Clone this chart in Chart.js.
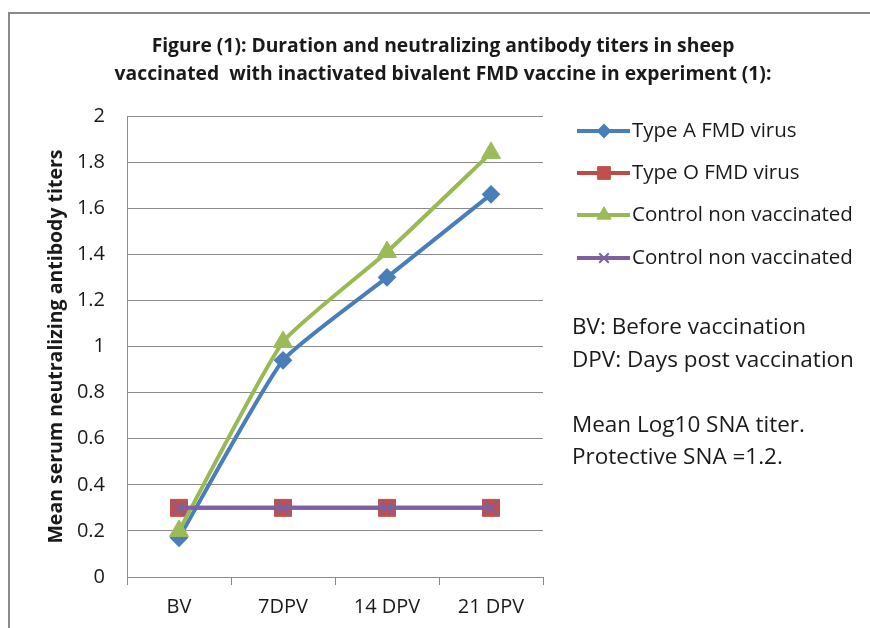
<!DOCTYPE html>
<html>
<head>
<meta charset="utf-8">
<script src="https://cdn.jsdelivr.net/npm/chart.js@4.4.1/dist/chart.umd.min.js"></script>
<style>
  html, body { margin: 0; padding: 0; background: #fff; overflow: hidden; }
  #wrap { position: relative; width: 870px; height: 628px; }
</style>
</head>
<body>
<div id="wrap"><canvas id="titersChart" width="870" height="628"></canvas></div>
<script>
// --- data ---
const categories = ['BV', '7DPV', '14 DPV', '21 DPV'];
const typeA = [0.17, 0.94, 1.3, 1.66];
const typeO = [0.3, 0.3, 0.3, 0.3];
const controlGreen = [0.2, 1.02, 1.41, 1.84];
const controlPurple = [0.3, 0.3, 0.3, 0.3];
const seriesNames = ['Type A FMD virus', 'Type O FMD virus', 'Control non vaccinated', 'Control non vaccinated'];
const yTicks = [0, 0.2, 0.4, 0.6, 0.8, 1, 1.2, 1.4, 1.6, 1.8, 2];
const titleLines = [
  'Figure (1): Duration and neutralizing antibody titers in sheep',
  'vaccinated  with inactivated bivalent FMD vaccine in experiment (1):'
];
const yTitle = 'Mean serum neutralizing antibody titers';
const notes = ['BV: Before vaccination', 'DPV: Days post vaccination', '', 'Mean Log10 SNA titer.', 'Protective SNA =1.2.'];

const FONT = '"Open Sans", Lato, sans-serif';
const TEXT = '#1a1a1a';
const GRID = '#8c8c8c';

// title, legend, side notes and outer frame drawn on the canvas
const sidePanel = {
  id: 'sidePanel',
  beforeDraw(chart) {
    const ctx = chart.ctx;
    ctx.save();
    ctx.strokeStyle = '#8a8a8a';
    ctx.lineWidth = 2;
    ctx.strokeRect(9, 13, 900, 700);
    ctx.restore();
  },
  afterDraw(chart) {
    const ctx = chart.ctx;
    ctx.save();
    ctx.fillStyle = TEXT;
    ctx.textBaseline = 'middle';
    ctx.textAlign = 'center';
    ctx.font = 'bold 19.3px ' + FONT;
    titleLines.forEach((line, i) => ctx.fillText(line, 443, 47 + i * 28));

    const rows = [131, 173, 215, 258];
    chart.data.datasets.forEach((ds, i) => {
      const y = rows[i];
      ctx.strokeStyle = ds.borderColor;
      ctx.lineWidth = 4;
      ctx.beginPath();
      ctx.moveTo(577, y);
      ctx.lineTo(630, y);
      ctx.stroke();
      ctx.fillStyle = ds.pointBackgroundColor;
      ctx.strokeStyle = ds.pointBorderColor;
      ctx.lineWidth = ds.pointBorderWidth;
      Chart.helpers.drawPoint(ctx, { pointStyle: ds.pointStyle, radius: ds.pointRadius * 0.75, rotation: 0, borderWidth: ds.pointBorderWidth }, 604, y);
      ctx.fillStyle = TEXT;
      ctx.font = '20.5px ' + FONT;
      ctx.textAlign = 'left';
      ctx.fillText(seriesNames[i], 632, y);
    });
    ctx.font = '22.5px ' + FONT;
    notes.forEach((line, i) => {
      if (line) ctx.fillText(line, 572, 328 + i * 32.5);
    });
    ctx.restore();
  }
};

const ctx = document.getElementById('titersChart').getContext('2d');
new Chart(ctx, {
  type: 'line',
  data: {
    labels: categories,
    datasets: [
      {
        label: seriesNames[0],
        data: typeA,
        borderColor: '#4a7ebb',
        pointBackgroundColor: '#4a7ebb',
        pointBorderColor: '#4a7ebb',
        pointStyle: 'rectRot',
        pointRadius: 8,
        pointBorderWidth: 2,
        order: 4
      },
      {
        label: seriesNames[1],
        data: typeO,
        borderColor: '#be4b48',
        pointBackgroundColor: '#c0504d',
        pointBorderColor: '#c0504d',
        pointStyle: 'rect',
        pointRadius: 12,
        pointBorderWidth: 1,
        order: 3
      },
      {
        label: seriesNames[2],
        data: controlGreen,
        borderColor: '#98b954',
        pointBackgroundColor: '#9bbb59',
        pointBorderColor: '#9bbb59',
        pointStyle: 'triangle',
        pointRadius: 11,
        pointBorderWidth: 1,
        order: 2
      },
      {
        label: seriesNames[3],
        data: controlPurple,
        borderColor: '#7d60a0',
        pointBackgroundColor: '#7d60a0',
        pointBorderColor: '#7d60a0',
        pointStyle: 'crossRot',
        pointRadius: 9,
        pointBorderWidth: 2,
        order: 1
      }
    ].map(d => Object.assign({ borderWidth: 4, tension: 0.15, fill: false }, d))
  },
  options: {
    responsive: false,
    devicePixelRatio: 1,
    animation: false,
    layout: { padding: { left: 28, right: 327, top: 116, bottom: 0 } },
    plugins: {
      legend: { display: false },
      tooltip: { enabled: false },
      title: { display: false }
    },
    scales: {
      x: {
        offset: true,
        afterFit(scale) { scale.height = 51; },
        grid: { offset: true, drawOnChartArea: false, color: GRID, tickLength: 8 },
        border: { color: GRID },
        ticks: { color: TEXT, padding: 10, font: { family: FONT, size: 20 } }
      },
      y: {
        min: 0,
        max: 2,
        afterFit(scale) { scale.width = 99; },
        afterBuildTicks(scale) { scale.ticks = yTicks.map(v => ({ value: v })); },
        grid: { color: GRID, drawTicks: false },
        border: { color: GRID },
        ticks: {
          color: TEXT,
          padding: 22,
          font: { family: FONT, size: 20 },
          callback: v => String(+v.toFixed(1))
        },
        title: {
          display: true,
          text: yTitle,
          color: TEXT,
          font: { family: FONT, size: 19.5, weight: 'bold' },
          padding: { top: 17 }
        }
      }
    }
  },
  plugins: [sidePanel]
});
</script>
</body>
</html>
